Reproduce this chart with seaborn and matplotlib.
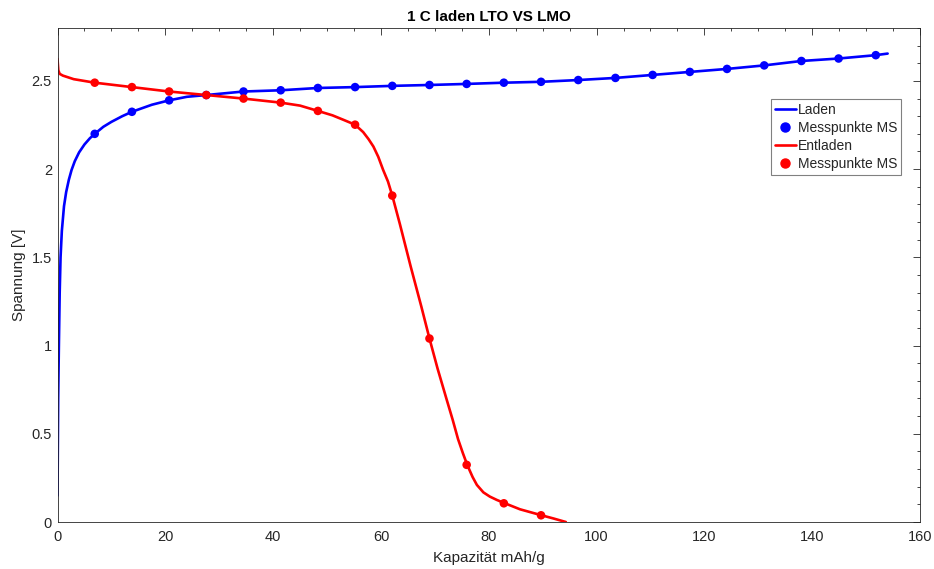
import matplotlib
matplotlib.use("Agg")
import matplotlib.pyplot as plt
from matplotlib.ticker import MultipleLocator, FuncFormatter
from matplotlib.lines import Line2D
import seaborn as sns
import pandas as pd

# Charge curve (Laden): capacity in mAh/g, voltage in V
laden_kap = [0.0, 0.05, 0.12, 0.25, 0.4, 0.56, 0.8, 1.2, 1.6, 2.1, 2.6, 3.2,
             4.0, 5.0, 6.0, 6.9, 8.5, 10.0, 12.0, 13.8, 17.5, 20.7, 24.0,
             27.6, 34.5, 41.4, 48.3, 55.2, 62.1, 69.0, 75.9, 82.8, 89.7, 96.6,
             103.5, 110.4, 117.3, 124.2, 131.1, 138.0, 144.9, 151.8, 154.0]
laden_u = [0.15, 0.40, 0.70, 1.00, 1.30, 1.50, 1.65, 1.79, 1.87, 1.94, 1.995,
           2.045, 2.095, 2.14, 2.175, 2.20, 2.24, 2.268, 2.30, 2.325, 2.365,
           2.39, 2.41, 2.42, 2.44, 2.447, 2.46, 2.465, 2.472, 2.477, 2.483,
           2.49, 2.495, 2.505, 2.517, 2.534, 2.551, 2.568, 2.588, 2.613, 2.627,
           2.646, 2.655]

# Measurement points on the charge curve
laden_ms_kap = [6.9, 13.8, 20.7, 27.6, 34.5, 41.4, 48.3, 55.2, 62.1, 69.0,
                75.9, 82.8, 89.7, 96.6, 103.5, 110.4, 117.3, 124.2, 131.1,
                138.0, 144.9, 151.8]
laden_ms_u = [2.20, 2.325, 2.39, 2.42, 2.44, 2.447, 2.46, 2.465, 2.472, 2.477,
              2.483, 2.49, 2.495, 2.505, 2.517, 2.534, 2.551, 2.568, 2.588,
              2.613, 2.627, 2.646]

# Discharge curve (Entladen)
entladen_kap = [0.0, 0.05, 0.15, 0.4, 1.0, 3.0, 6.9, 13.8, 20.7, 27.6, 34.5,
                41.4, 45.0, 48.3, 51.0, 53.0, 55.2, 56.7, 57.7, 58.6, 59.5,
                60.4, 61.3, 62.1, 63.5, 65.5, 67.5, 69.0, 70.5, 72.2, 73.3,
                74.3, 75.2, 76.0, 77.0, 77.8, 79.0, 80.2, 81.5, 83.0, 85.8,
                89.8, 92.0, 94.3]
entladen_u = [2.625, 2.60, 2.56, 2.54, 2.53, 2.51, 2.49, 2.465, 2.44, 2.42,
              2.40, 2.377, 2.36, 2.33, 2.305, 2.28, 2.252, 2.21, 2.17, 2.128,
              2.07, 1.996, 1.93, 1.85, 1.69, 1.45, 1.22, 1.04, 0.87, 0.693,
              0.58, 0.47, 0.39, 0.324, 0.255, 0.21, 0.168, 0.144, 0.125, 0.106,
              0.072, 0.038, 0.02, 0.0]

# Measurement points on the discharge curve
entladen_ms_kap = [6.9, 13.8, 20.7, 27.6, 34.5, 41.4, 48.3, 55.2, 62.1, 69.0,
                   75.9, 82.8, 89.7]
entladen_ms_u = [2.49, 2.465, 2.44, 2.42, 2.40, 2.377, 2.33, 2.252, 1.85,
                 1.04, 0.324, 0.106, 0.038]

x_ticks = [0, 20, 40, 60, 80, 100, 120, 140, 160]
y_ticks = [0, 0.5, 1, 1.5, 2, 2.5]

sns.set_theme(style="white")
plt.rcParams["font.family"] = ["Liberation Sans", "DejaVu Sans"]

fig = plt.figure(figsize=(9.34, 5.69), dpi=100)
ax = fig.add_axes([0.0616, 0.0826, 0.9234, 0.8682])

axis_grey = "#262626"

laden_df = pd.DataFrame({"kap": laden_kap, "u": laden_u})
entladen_df = pd.DataFrame({"kap": entladen_kap, "u": entladen_u})
laden_ms_df = pd.DataFrame({"kap": laden_ms_kap, "u": laden_ms_u})
entladen_ms_df = pd.DataFrame({"kap": entladen_ms_kap, "u": entladen_ms_u})

sns.lineplot(data=laden_df, x="kap", y="u", ax=ax, color="#0000ff",
             linewidth=1.9, sort=False, estimator=None)
sns.scatterplot(data=laden_ms_df, x="kap", y="u", ax=ax, color="#0000ff",
                s=38, edgecolor="none", zorder=3)
sns.lineplot(data=entladen_df, x="kap", y="u", ax=ax, color="#ff0000",
             linewidth=1.9, sort=False, estimator=None)
sns.scatterplot(data=entladen_ms_df, x="kap", y="u", ax=ax, color="#ff0000",
                s=38, edgecolor="none", zorder=3)

ax.set_xlim(0, 160)
ax.set_ylim(0, 2.8)
ax.set_xticks(x_ticks)
ax.set_yticks(y_ticks)
ax.xaxis.set_minor_locator(MultipleLocator(5))
ax.yaxis.set_minor_locator(MultipleLocator(0.1))
ax.yaxis.set_major_formatter(FuncFormatter(lambda v, p: f"{v:g}"))

ax.tick_params(which="both", direction="in", top=True, right=True,
               colors=axis_grey, labelcolor=axis_grey, width=0.6)
ax.tick_params(which="major", length=5, labelsize=10.5)
ax.tick_params(axis="x", which="major", pad=6)
ax.tick_params(axis="y", which="major", pad=4)
ax.tick_params(which="minor", length=2.5)
for sp in ax.spines.values():
    sp.set_color(axis_grey)
    sp.set_linewidth(0.6)

ax.set_title("1 C laden LTO VS LMO", fontsize=11, fontweight="bold",
             color="black", pad=5)
ax.set_xlabel("Kapazität mAh/g", fontsize=11, color=axis_grey, labelpad=5)
ax.set_ylabel("Spannung [V]", fontsize=11, color=axis_grey, labelpad=4)

handles = [
    Line2D([], [], color="#0000ff", linewidth=1.9),
    Line2D([], [], color="#0000ff", marker="o", linestyle="none", markersize=6.5),
    Line2D([], [], color="#ff0000", linewidth=1.9),
    Line2D([], [], color="#ff0000", marker="o", linestyle="none", markersize=6.5),
]
labels = ["Laden", "Messpunkte MS", "Entladen", "Messpunkte MS"]
leg = ax.legend(handles, labels, loc="upper right", bbox_to_anchor=(0.9785, 0.857),
                fontsize=10, frameon=True, fancybox=False, framealpha=1,
                edgecolor="#808080", handlelength=1.5, handletextpad=0.15,
                borderpad=0.3, labelspacing=0.3, borderaxespad=0)
leg.get_frame().set_linewidth(0.8)

fig.savefig("out.png", dpi=100, facecolor="white")
